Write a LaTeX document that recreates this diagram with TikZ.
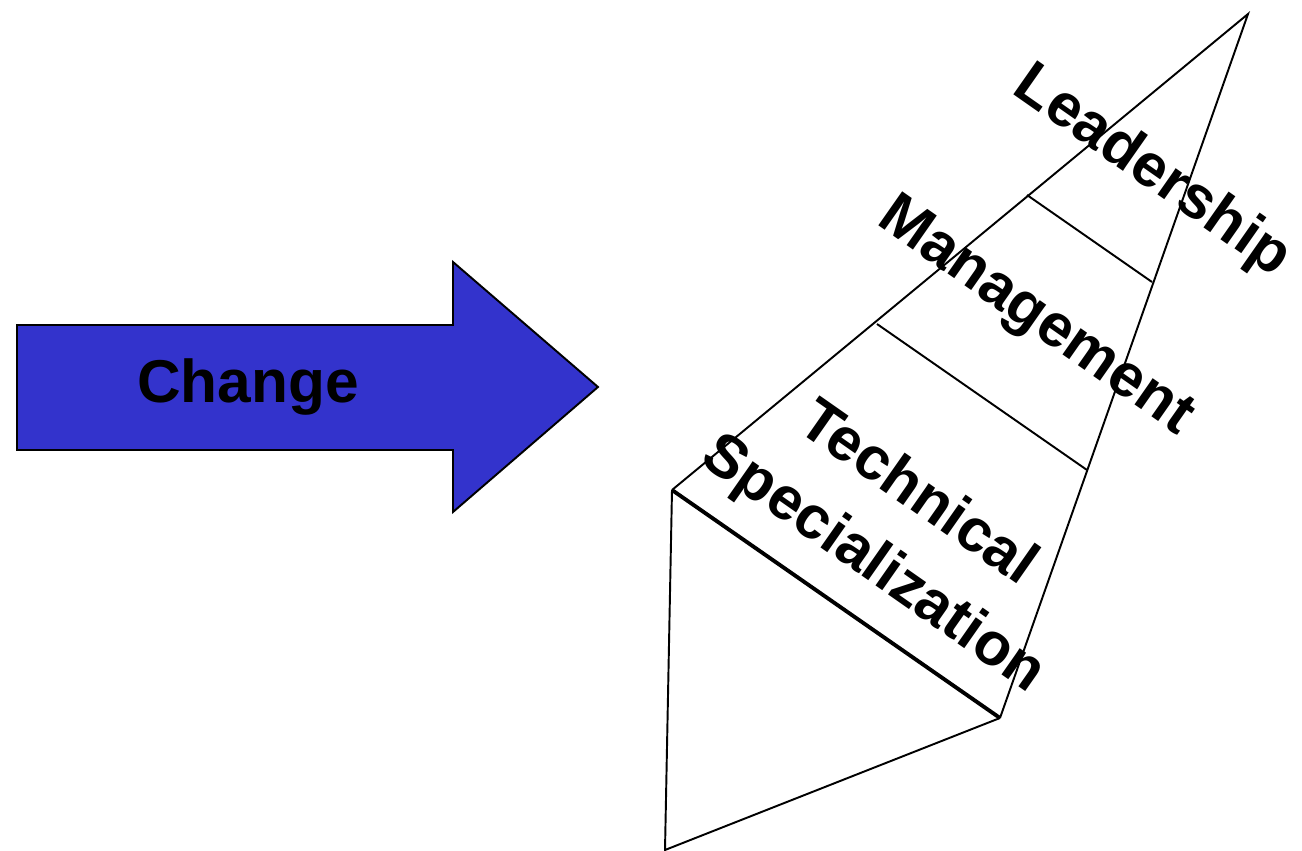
\documentclass[tikz,border=0pt]{standalone}
\usepackage{fontspec}
\setmainfont{Liberation Sans}
\usetikzlibrary{calc}
\usepackage{xcolor}
\definecolor{arrowblue}{HTML}{3333CC}

\begin{document}
\begin{tikzpicture}[x=0.02cm, y=-0.02cm]
        % ================= 样式定义 =================
        \tikzset{
            % 蓝色大箭头
            bigarrow/.style={draw=black, line width=1.1pt, fill=arrowblue, line join=miter},
            % 文字
            arrowtext/.style={font=\bfseries\fontsize{34.4}{40}\selectfont, inner sep=0pt},
            tiertext/.style={font=\bfseries\fontsize{34.4}{40}\selectfont, inner sep=0pt, rotate=-35},
            % 金字塔的边
            pyrline/.style={black, line width=1.1pt, line join=miter},
            % 底边 (加粗)
            seamline/.style={black, line width=2.2pt}
        }

        \useasboundingbox (0,0) rectangle (1302,851);

        % ================= 左侧:箭头 =================
        \draw[bigarrow] (17,325) -- (453,325) -- (453,262) -- (598,387)
            -- (453,512) -- (453,450) -- (17,450) -- cycle;
        \node[arrowtext] (change) at (248,387) {Change};

        % ================= 右侧:金字塔 =================
        \coordinate (apex) at (1248,14);
        \coordinate (baseL) at (672,490);
        \coordinate (baseR) at (1000,718);
        \coordinate (tail) at (665,850);

        \draw[pyrline] (baseL) -- (apex) -- (baseR);
        \draw[pyrline] (baseL) -- (tail) -- (baseR);
        \draw[seamline] (baseL) -- (baseR);

        % 分层线
        \draw[pyrline] (1027,195) -- (1152,282);
        \draw[pyrline] (877,324) -- (1087,470);

        % 各层文字
        \node[tiertext] (lead) at (1152,172) {Leadership};
        \node[tiertext] (mgmt) at (1035,318) {Management};
        \node[tiertext] (tech) at (920,490) {Technical};
        \node[tiertext] (spec) at (873,565) {Specialization};

    \end{tikzpicture}
\end{document}
